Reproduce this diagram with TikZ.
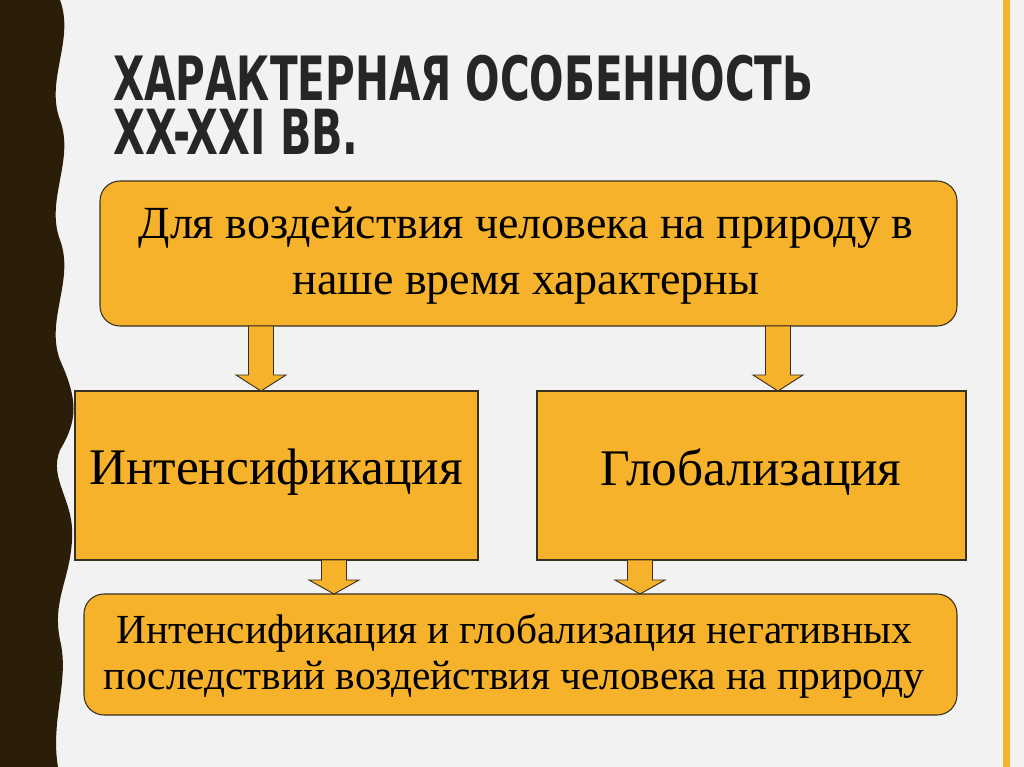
\documentclass[tikz,border=0pt]{standalone}
\usepackage{fontspec}
\setmainfont{Liberation Serif}
\newfontfamily\titlefont{DejaVu Sans Condensed Bold}
\definecolor{bg}{HTML}{F2F2F2}
\definecolor{band}{HTML}{2A1E08}
\definecolor{box}{HTML}{F5B22A}
\definecolor{boxline}{HTML}{3A3020}
\begin{document}
\begin{tikzpicture}[x=0.75pt,y=-0.75pt,
  boxst/.style={draw=boxline,fill=box,line width=0.8pt},
  arr/.style={draw=boxline,fill=box,line width=0.7pt},
  txt/.style={align=center,text=black}]
\useasboundingbox (0,0) rectangle (1024,767);
\fill[bg] (0,0) rectangle (1024,767);
\fill[band] (0,0) -- (60,0)
  .. controls (75,40) and (45,80) .. (60,120)
  .. controls (75,160) and (45,200) .. (60,240)
  .. controls (75,280) and (45,320) .. (60,360)
  .. controls (78,400) and (78,420) .. (60,450)
  .. controls (48,480) and (75,500) .. (72,540)
  .. controls (70,580) and (52,600) .. (60,640)
  .. controls (70,680) and (50,720) .. (58,767) -- (0,767) -- cycle;
\fill[box] (1003,0) rectangle (1010,767);
\node[anchor=base west,inner sep=0,text=black!85] (t1) at (113,100) {\resizebox{525pt}{34pt}{\titlefont ХАРАКТЕРНАЯ ОСОБЕННОСТЬ}};
\node[anchor=base west,inner sep=0,text=black!85] (t2) at (113,155) {\resizebox{184pt}{34pt}{\titlefont XX-XXI ВВ.}};
\draw[boxst,rounded corners=15pt] (100,181) rectangle (957,326);
\node[txt,font=\fontsize{34.5}{42}\selectfont] (top) at (526,256) {Для воздействия человека на природу в\\наше время характерны};
\draw[boxst] (75,391) rectangle (478,560);
\node[txt,font=\fontsize{38.5}{44}\selectfont] (l) at (276,472) {Интенсификация};
\draw[boxst] (537,391) rectangle (966,560);
\node[txt,font=\fontsize{38.5}{44}\selectfont] (r) at (751,472) {Глобализация};
\draw[boxst,rounded corners=15pt] (84,594) rectangle (957,715);
\node[txt,font=\fontsize{31}{35}\selectfont] (b) at (514,656) {Интенсификация и глобализация негативных\\последствий воздействия человека на природу};
\foreach \cx/\ya/\yb/\yc in {261/326/375/391, 778/326/375/391, 334/560/580/594, 640/560/580/594}{
  \draw[arr] (\cx-12.5,\ya) -- (\cx+12.5,\ya) -- (\cx+12.5,\yb) -- (\cx+25,\yb) -- (\cx,\yc) -- (\cx-25,\yb) -- (\cx-12.5,\yb) -- cycle;
}
\end{tikzpicture}
\end{document}
